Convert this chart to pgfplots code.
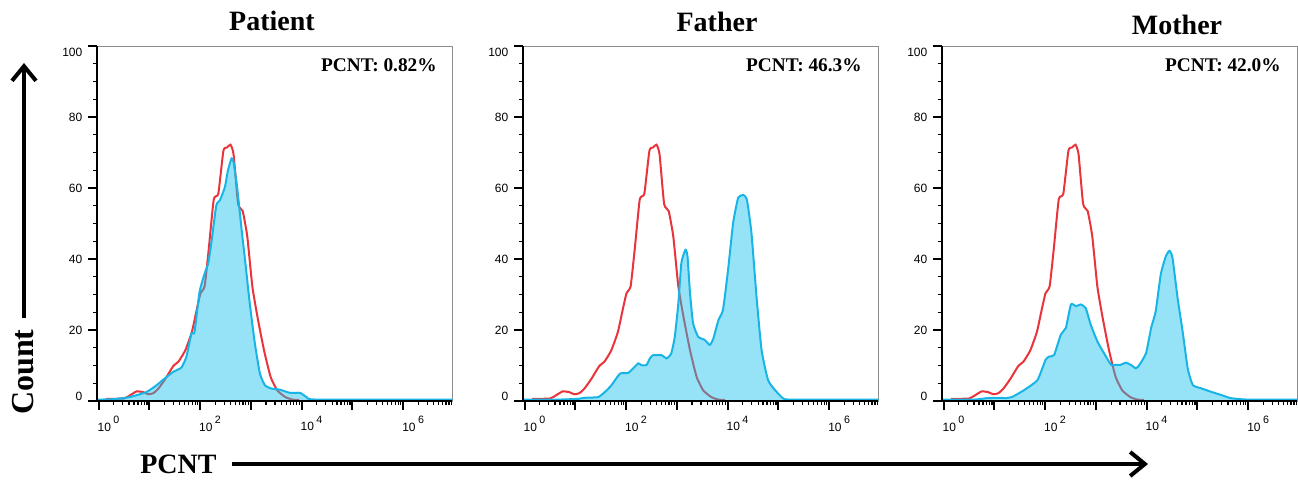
\documentclass[border=0pt]{standalone}
\usepackage{fontspec}
\setmainfont{Liberation Serif}
\setsansfont{Liberation Sans}
\usepackage{pgfplots}
\usepackage{pgfplotstable}
\pgfplotsset{compat=1.18}
\usetikzlibrary{arrows.meta}

\definecolor{ctrlRed}{HTML}{E8343A}
\definecolor{pcntLine}{HTML}{19B4E6}
\definecolor{pcntFill}{HTML}{17C2ED}

% x = log10 of PCNT intensity, y = count
\pgfplotstableread{
x y
0.15 0.6
0.50 0.7
0.62 1.6
0.75 2.7
0.88 2.5
0.98 1.9
1.08 2.2
1.18 3.5
1.32 6.3
1.47 9.8
1.58 11.2
1.71 14.3
1.84 19.5
1.94 26.1
2.01 30.4
2.09 32.3
2.17 42.6
2.27 56.8
2.36 58.4
2.46 70.5
2.53 71.4
2.60 72.2
2.66 69.5
2.75 55.5
2.84 53.5
2.93 46.4
3.03 32.3
3.13 23.8
3.26 14.3
3.39 6.8
3.52 3.0
3.68 1.1
3.82 0.4
3.95 0.3
}\ctrl

\pgfplotstableread{
x y
-0.03 0.4
0.28 0.5
0.61 1.1
0.94 2.5
1.14 4.4
1.30 6.3
1.47 8.2
1.63 9.4
1.73 12.4
1.83 19.0
1.89 19.4
1.99 30.7
2.09 35.9
2.16 38.7
2.22 44.3
2.32 55.1
2.39 56.5
2.49 60.3
2.55 65.0
2.62 68.3
2.66 67.3
2.73 60.3
2.82 48.1
2.88 40.6
2.98 27.4
3.08 16.2
3.18 7.7
3.28 4.4
3.41 3.5
3.57 3.2
3.77 2.3
3.97 2.3
4.10 1.1
4.30 0.4
6.97 0.4
}\patient

\pgfplotstableread{
x y
-0.03 0.4
0.66 0.4
1.05 0.6
1.18 0.9
1.45 1.1
1.58 2.5
1.71 4.4
1.88 7.7
2.04 7.9
2.14 9.2
2.24 10.6
2.30 10.1
2.40 10.1
2.47 12.0
2.53 12.9
2.70 12.9
2.80 12.0
2.89 13.4
2.96 18.1
3.03 27.5
3.09 38.9
3.17 42.6
3.21 40.8
3.26 30.4
3.32 21.9
3.42 18.1
3.55 17.2
3.65 15.8
3.72 17.6
3.82 22.8
3.91 25.7
4.01 37.0
4.11 50.2
4.21 57.3
4.31 58.0
4.38 56.8
4.47 47.4
4.57 29.4
4.67 14.3
4.80 5.8
4.97 2.5
5.10 0.7
5.26 0.4
6.97 0.4
}\father

\pgfplotstableread{
x y
-0.03 0.4
0.60 0.4
0.86 0.8
1.13 0.9
1.22 0.8
1.36 1.2
1.59 3.1
1.85 5.9
2.01 11.6
2.08 12.5
2.18 13.0
2.31 18.7
2.41 20.6
2.51 27.2
2.61 26.7
2.70 27.2
2.80 26.2
2.90 21.5
3.03 16.8
3.16 13.5
3.30 10.2
3.39 10.2
3.49 10.2
3.59 10.8
3.69 10.2
3.79 9.2
3.86 10.2
3.99 13.5
4.09 20.6
4.18 25.3
4.28 35.7
4.38 40.8
4.45 42.3
4.51 40.4
4.61 29.1
4.71 19.6
4.81 9.2
4.91 4.5
5.07 3.6
5.27 2.6
5.47 1.7
5.66 0.8
5.99 0.4
6.97 0.4
}\mother

\newcommand{\dec}[1]{10\hspace{1.8pt}\raisebox{0.6em}{\fontsize{8}{8}\selectfont #1}}

\pgfplotsset{flowpanel/.style={
	anchor=south west,
	scale only axis,
	width=266.5pt,
	height=266.25pt,
	xmin=-0.03, xmax=6.97,
	ymin=0, ymax=100,
	xtick={0,1,2,3,4,5,6},
	xticklabels={\dec{0},,\dec{2},,\dec{4},,\dec{6}},
	minor xtick={0.301,0.477,0.602,0.699,0.778,0.845,0.903,0.954,
		1.301,1.477,1.602,1.699,1.778,1.845,1.903,1.954,
		2.301,2.477,2.602,2.699,2.778,2.845,2.903,2.954,
		3.301,3.477,3.602,3.699,3.778,3.845,3.903,3.954,
		4.301,4.477,4.602,4.699,4.778,4.845,4.903,4.954,
		5.301,5.477,5.602,5.699,5.778,5.845,5.903,5.954,
		6.301,6.477,6.602,6.699,6.778,6.845,6.903,6.954},
	ytick={0,20,40,60,80,100},
	yticklabels={\raisebox{3.5pt}[\height][\depth]{0},20,40,60,80,\raisebox{-5pt}[\height][\depth]{100}},
	minor y tick num=3,
	tick align=outside,
	xtick pos=bottom,
	ytick pos=left,
	major tick length=6.5pt,
	minor tick length=3pt,
	major tick style={line width=1.5pt,black},
	minor tick style={line width=0.9pt,black},
	axis line style={draw=black!45,line width=0.6pt},
	tick label style={font=\sffamily\fontsize{9}{9}\selectfont},
	xticklabel style={xshift=7.5pt,yshift=-1.5pt},
	yticklabel style={xshift=-1pt},
	after end axis/.code={
		\draw[line width=1.5pt,black] (rel axis cs:0,1) -- (rel axis cs:0,0) -- (rel axis cs:1,0);
	},
	every axis plot/.append style={smooth,tension=0.3},
}}

\begin{document}
\begin{tikzpicture}[x=0.75pt,y=-0.75pt]
\useasboundingbox (0,0) rectangle (1298,479);

\begin{axis}[flowpanel,at={(72.75pt,-300.75pt)}]
\addplot[draw=ctrlRed,line width=1.5pt] table {\ctrl};
\addplot[draw=none,fill=pcntFill,fill opacity=0.45] table {\patient} \closedcycle;
\addplot[draw=pcntLine,line width=1.5pt] table {\patient};
\end{axis}

\begin{axis}[flowpanel,at={(392.25pt,-300.75pt)}]
\addplot[draw=ctrlRed,line width=1.5pt] table {\ctrl};
\addplot[draw=none,fill=pcntFill,fill opacity=0.45] table {\father} \closedcycle;
\addplot[draw=pcntLine,line width=1.5pt] table {\father};
\end{axis}

\begin{axis}[flowpanel,at={(706.5pt,-300.75pt)}]
\addplot[draw=ctrlRed,line width=1.5pt] table {\ctrl};
\addplot[draw=none,fill=pcntFill,fill opacity=0.45] table {\mother} \closedcycle;
\addplot[draw=pcntLine,line width=1.5pt] table {\mother};
\end{axis}

% panel titles
\node[font=\bfseries\fontsize{21}{21}\selectfont,anchor=base] at (272,30) {Patient};
\node[font=\bfseries\fontsize{21}{21}\selectfont,anchor=base] at (717,31) {Father};
\node[font=\bfseries\fontsize{21}{21}\selectfont,anchor=base] at (1177,34) {Mother};

% percentages
\node[font=\bfseries\fontsize{14.5}{14.5}\selectfont,anchor=base east,inner sep=0pt] at (437,71) {PCNT: 0.82\%};
\node[font=\bfseries\fontsize{14.5}{14.5}\selectfont,anchor=base east,inner sep=0pt] at (862,71) {PCNT: 46.3\%};
\node[font=\bfseries\fontsize{14.5}{14.5}\selectfont,anchor=base east,inner sep=0pt] at (1281,71) {PCNT: 42.0\%};

% axis captions with arrows
\node[font=\bfseries\fontsize{24}{24}\selectfont,rotate=90,anchor=base,inner sep=0pt] at (33,372) {Count};
\draw[line width=3pt,-{Straight Barb[length=11pt,width=18pt,line width=3pt]}] (24,318) -- (24,63);
\node[font=\bfseries\fontsize{21}{21}\selectfont,anchor=base west,inner sep=0pt] at (140,473) {PCNT};
\draw[line width=3pt,-{Straight Barb[length=11pt,width=18pt,line width=3pt]}] (232,464) -- (1148,464);
\end{tikzpicture}
\end{document}
